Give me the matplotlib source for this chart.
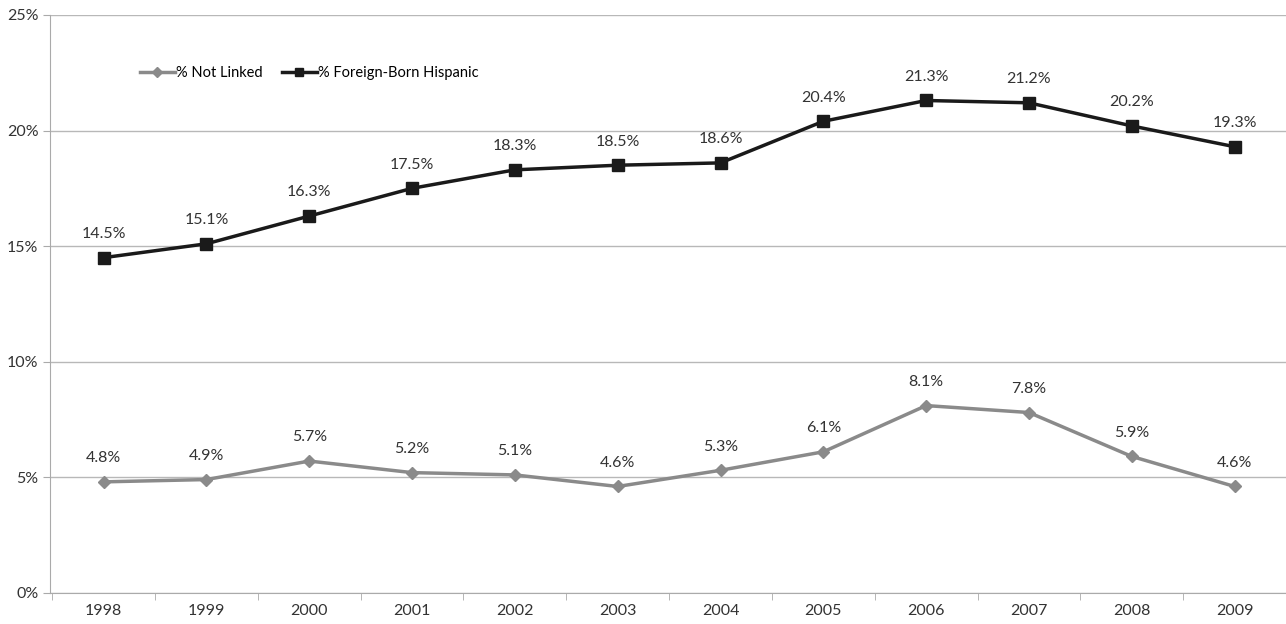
import matplotlib.pyplot as plt

years = ["1998", "1999", "2000", "2001", "2002", "2003",
         "2004", "2005", "2006", "2007", "2008", "2009"]
not_linked = [4.8, 4.9, 5.7, 5.2, 5.1, 4.6, 5.3, 6.1, 8.1, 7.8, 5.9, 4.6]
foreign_born = [14.5, 15.1, 16.3, 17.5, 18.3, 18.5, 18.6, 20.4, 21.3, 21.2, 20.2, 19.3]

plt.rcParams['font.family'] = ['Lato', 'DejaVu Sans']

fig = plt.figure(figsize=(12.86, 6.24), dpi=100)
ax = fig.add_axes([0.039, 0.05, 0.961, 0.926])

x = list(range(len(years)))
ax.plot(x, not_linked, color='#8a8a8a', lw=2.5, marker='D', ms=6,
        label='% Not Linked', zorder=3)
ax.plot(x, foreign_born, color='#1a1a1a', lw=2.5, marker='s', ms=8,
        label='% Foreign-Born Hispanic', zorder=3)

for xi, v in zip(x, not_linked):
    ax.annotate(f"{v}%", (xi, v), xytext=(0, 12), textcoords='offset points',
                ha='center', va='bottom', fontsize=11.5, color='#333333')
for xi, v in zip(x, foreign_born):
    ax.annotate(f"{v}%", (xi, v), xytext=(0, 12), textcoords='offset points',
                ha='center', va='bottom', fontsize=11.5, color='#333333')

ax.set_xlim(-0.52, 11.5)
ax.set_ylim(0, 25)
ax.set_yticks([0, 5, 10, 15, 20, 25])
ax.set_yticklabels([f"{t}%" for t in [0, 5, 10, 15, 20, 25]])
ax.set_xticks(x)
ax.set_xticklabels(years)
ax.set_xticks([i + 0.5 for i in range(-1, 12)], minor=True)
ax.tick_params(axis='x', which='major', length=0, labelsize=11.5, pad=8, colors='#333333')
ax.tick_params(axis='x', which='minor', length=5, color='#aaaaaa')
ax.tick_params(axis='y', length=5, color='#aaaaaa', labelsize=11.5, colors='#333333')
ax.yaxis.grid(True, color='#b8b8b8', lw=1)
ax.set_axisbelow(True)

for side in ['top', 'right']:
    ax.spines[side].set_visible(False)
ax.spines['left'].set_color('#aaaaaa')
ax.spines['bottom'].set_color('#aaaaaa')

ax.legend(loc='upper left', bbox_to_anchor=(0.062, 0.935), ncol=2, frameon=False,
          fontsize=10.5, handlelength=2.4, handletextpad=0.1, columnspacing=1.3,
          markerscale=0.8)

fig.savefig('out.png', dpi=100)
